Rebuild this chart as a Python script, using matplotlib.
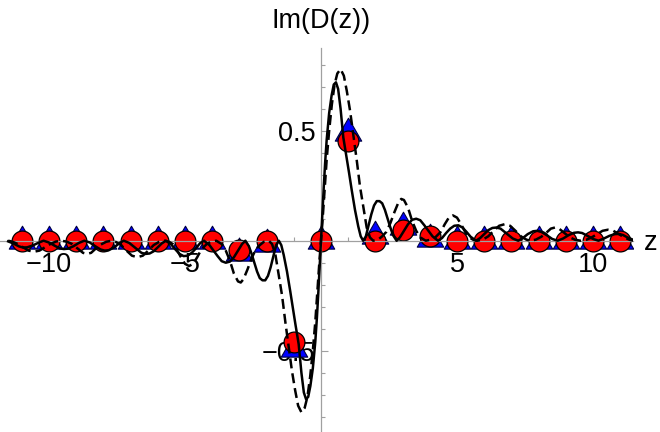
import matplotlib
matplotlib.use('Agg')
import matplotlib.pyplot as plt
from matplotlib.path import Path

plt.rcParams['font.family'] = ['Liberation Sans', 'DejaVu Sans']

# points sampled at the integers
z_pts = list(range(-11, 12))
circle_y = [0, 0, 0, 0, 0, 0, 0, 0, -0.04, 0, -0.46, 0,
            0.455, 0, 0.05, 0.02, 0, 0, 0, 0, 0, 0, 0]
triangle_y = [0, 0, 0, 0, 0, 0, 0, 0, -0.056, -0.015, -0.49, 0,
              0.49, 0.02, 0.063, 0.01, 0, 0, 0, 0, 0, 0, 0]

# solid curve (z, y)
solid_neg = [(-11.5, -0.003), (-11.3, -0.013), (-11.1, -0.026), (-10.95, -0.031), (-10.8, -0.03),
             (-10.6, -0.022), (-10.4, -0.01), (-10.2, 0), (-10.0, -0.008), (-9.8, -0.022),
             (-9.6, -0.035), (-9.45, -0.038), (-9.3, -0.036), (-9.1, -0.025), (-8.9, -0.01),
             (-8.7, 0), (-8.5, -0.008), (-8.3, -0.025), (-8.1, -0.04), (-7.95, -0.045),
             (-7.8, -0.043), (-7.6, -0.03), (-7.4, -0.01), (-7.25, 0), (-7.05, -0.01),
             (-6.9, -0.025), (-6.75, -0.04), (-6.6, -0.055), (-6.45, -0.06), (-6.3, -0.058),
             (-6.15, -0.048), (-6.0, -0.03), (-5.85, -0.012), (-5.7, 0), (-5.5, -0.018),
             (-5.35, -0.04), (-5.2, -0.06), (-5.05, -0.07), (-4.9, -0.068), (-4.75, -0.055),
             (-4.6, -0.035), (-4.45, -0.012), (-4.3, 0), (-4.1, -0.02), (-3.95, -0.045),
             (-3.8, -0.07), (-3.65, -0.093), (-3.5, -0.10), (-3.35, -0.095), (-3.2, -0.075),
             (-3.05, -0.045), (-2.9, -0.015), (-2.78, 0), (-2.65, -0.025), (-2.55, -0.06),
             (-2.45, -0.10), (-2.35, -0.14), (-2.25, -0.17), (-2.15, -0.18), (-2.05, -0.18),
             (-1.95, -0.16), (-1.85, -0.12), (-1.75, -0.07), (-1.65, -0.02), (-1.55, 0),
             (-1.46, -0.02), (-1.37, -0.065), (-1.25, -0.14), (-1.13, -0.23), (-1.03, -0.31),
             (-0.94, -0.38), (-0.82, -0.47), (-0.72, -0.60), (-0.63, -0.69), (-0.55, -0.72),
             (-0.47, -0.71), (-0.39, -0.66), (-0.30, -0.58), (-0.21, -0.46), (-0.15, -0.35),
             (-0.10, -0.24), (-0.05, -0.12)]
solid_pos = [(0, 0), (0.05, 0.12), (0.10, 0.24), (0.15, 0.35), (0.21, 0.46), (0.30, 0.58),
             (0.39, 0.66), (0.47, 0.71), (0.55, 0.72), (0.63, 0.69), (0.72, 0.60), (0.82, 0.47),
             (0.94, 0.38), (1.03, 0.31), (1.13, 0.23), (1.25, 0.14), (1.37, 0.065), (1.46, 0.02),
             (1.55, 0), (1.65, 0.02), (1.75, 0.07), (1.85, 0.12), (1.95, 0.16), (2.05, 0.18),
             (2.15, 0.18), (2.25, 0.17), (2.35, 0.14), (2.45, 0.10), (2.55, 0.06), (2.65, 0.025),
             (2.78, 0), (2.9, 0.015), (3.05, 0.045), (3.2, 0.075), (3.35, 0.095), (3.5, 0.10),
             (3.65, 0.093), (3.8, 0.07), (3.95, 0.045), (4.1, 0.02), (4.3, 0), (4.45, 0.012),
             (4.6, 0.035), (4.75, 0.055), (4.9, 0.068), (5.05, 0.07), (5.2, 0.06), (5.35, 0.04),
             (5.5, 0.018), (5.7, 0), (5.85, 0.012), (6.0, 0.03), (6.15, 0.048), (6.3, 0.058),
             (6.45, 0.06), (6.6, 0.055), (6.75, 0.04), (6.9, 0.025), (7.05, 0.01), (7.25, 0),
             (7.4, 0.01), (7.6, 0.03), (7.8, 0.043), (7.95, 0.045), (8.1, 0.04), (8.3, 0.025),
             (8.5, 0.008), (8.7, 0), (8.9, 0.01), (9.1, 0.025), (9.3, 0.036), (9.45, 0.038),
             (9.6, 0.035), (9.8, 0.022), (10.0, 0.008), (10.2, 0), (10.4, 0.01), (10.6, 0.022),
             (10.8, 0.03), (10.95, 0.031), (11.1, 0.026), (11.3, 0.013), (11.5, 0.003)]

# dashed curve (z, y)
dashed_neg = [(-11.5, 0), (-11.35, -0.004), (-11.15, -0.015), (-10.95, -0.03), (-10.75, -0.045),
              (-10.55, -0.05), (-10.35, -0.045), (-10.15, -0.03), (-9.95, -0.015), (-9.75, -0.004),
              (-9.55, 0), (-9.35, -0.004), (-9.15, -0.015), (-8.95, -0.035), (-8.75, -0.055),
              (-8.6, -0.06), (-8.45, -0.055), (-8.3, -0.038), (-8.1, -0.018), (-7.9, -0.005),
              (-7.7, 0), (-7.55, -0.005), (-7.35, -0.02), (-7.15, -0.045), (-6.95, -0.068),
              (-6.75, -0.075), (-6.55, -0.068), (-6.35, -0.045), (-6.15, -0.02), (-5.95, -0.005),
              (-5.75, 0), (-5.6, -0.004), (-5.45, -0.015), (-5.3, -0.04), (-5.15, -0.075),
              (-5.0, -0.105), (-4.85, -0.115), (-4.7, -0.105), (-4.55, -0.075), (-4.4, -0.04),
              (-4.2, -0.015), (-4.05, -0.005), (-3.85, 0), (-3.65, -0.015), (-3.5, -0.045),
              (-3.35, -0.09), (-3.2, -0.15), (-3.05, -0.185), (-2.95, -0.19), (-2.85, -0.175),
              (-2.7, -0.13), (-2.55, -0.08), (-2.4, -0.04), (-2.25, -0.02), (-2.1, -0.005),
              (-1.92, 0), (-1.80, -0.015), (-1.68, -0.06), (-1.56, -0.15), (-1.43, -0.25),
              (-1.31, -0.37), (-1.19, -0.48), (-1.07, -0.59), (-0.95, -0.68), (-0.84, -0.75),
              (-0.72, -0.78), (-0.60, -0.76), (-0.50, -0.71), (-0.40, -0.62), (-0.30, -0.50),
              (-0.21, -0.37), (-0.15, -0.26), (-0.10, -0.17), (-0.05, -0.08)]
dashed_pos = [(0, 0), (0.05, 0.08), (0.10, 0.17), (0.15, 0.26), (0.21, 0.37), (0.30, 0.50),
              (0.40, 0.62), (0.50, 0.71), (0.60, 0.76), (0.72, 0.78), (0.84, 0.75), (0.95, 0.68),
              (1.07, 0.59), (1.19, 0.48), (1.31, 0.37), (1.43, 0.25), (1.56, 0.15), (1.68, 0.06),
              (1.80, 0.015), (1.92, 0), (2.1, 0.005), (2.25, 0.02), (2.4, 0.04), (2.55, 0.08),
              (2.7, 0.13), (2.85, 0.175), (2.95, 0.19), (3.05, 0.185), (3.2, 0.15), (3.35, 0.09),
              (3.5, 0.045), (3.65, 0.015), (3.85, 0), (4.05, 0.005), (4.2, 0.015), (4.4, 0.04),
              (4.55, 0.075), (4.7, 0.105), (4.85, 0.115), (5.0, 0.105), (5.15, 0.075), (5.3, 0.04),
              (5.45, 0.015), (5.6, 0.004), (5.75, 0), (5.95, 0.005), (6.15, 0.02), (6.35, 0.045),
              (6.55, 0.068), (6.75, 0.075), (6.95, 0.068), (7.15, 0.045), (7.35, 0.02), (7.55, 0.005),
              (7.7, 0), (7.9, 0.005), (8.1, 0.018), (8.3, 0.038), (8.45, 0.055), (8.6, 0.06),
              (8.75, 0.055), (8.95, 0.035), (9.15, 0.015), (9.35, 0.004), (9.55, 0), (9.75, 0.004),
              (9.95, 0.015), (10.15, 0.03), (10.35, 0.045), (10.55, 0.05), (10.75, 0.045),
              (10.95, 0.03), (11.15, 0.015), (11.35, 0.004), (11.5, 0)]

x_major = [-10, -5, 5, 10]
x_minor = [v for v in range(-11, 12) if v not in x_major and v != 0]
y_major = [-0.5, 0.5]
y_minor = [-0.8, -0.7, -0.6, -0.4, -0.3, -0.2, -0.1, 0.1, 0.2, 0.3, 0.4, 0.6, 0.7, 0.8]

fig = plt.figure(figsize=(6.6, 4.32), dpi=100)
fig.patch.set_facecolor('white')
ax = fig.add_axes([0, 0, 633 / 660, 384 / 432])
ax.set_facecolor('none')

# triangle with its centroid on the data point
tri = Path([[0, 1], [-0.866, -0.5], [0.866, -0.5], [0, 1]], closed=True)
ax.plot(z_pts, triangle_y, linestyle='none', marker=tri, markersize=22,
        markerfacecolor='#0000ff', markeredgecolor='#000040', markeredgewidth=0.8, zorder=3)
ax.plot(z_pts, circle_y, linestyle='none', marker='o', markersize=15,
        markerfacecolor='#ff0000', markeredgecolor='black', markeredgewidth=0.9, zorder=3.2)

sz, sy = zip(*(solid_neg + solid_pos))
dz, dy = zip(*(dashed_neg + dashed_pos))
ax.plot(dz, dy, color='black', lw=1.8, dashes=(4, 2), zorder=5)
ax.plot(sz, sy, color='black', lw=1.8, zorder=5)

ax.set_xlim(-11.80, 11.47)
ax.set_ylim(-0.8695, 0.876)

for s in ['top', 'right']:
    ax.spines[s].set_visible(False)
for s in ['left', 'bottom']:
    ax.spines[s].set_position('zero')
    ax.spines[s].set_color('#a0a0a0')
    ax.spines[s].set_linewidth(0.9)
    ax.spines[s].set_zorder(4)

ax.set_xticks(x_major)
ax.set_xticks(x_minor, minor=True)
ax.set_yticks(y_major)
ax.set_yticks(y_minor, minor=True)
ax.set_xticklabels(['\u221210', '\u22125', '5', '10'])
ax.set_yticklabels(['\u22120.5', '0.5'])
ax.tick_params(which='both', direction='in', color='#a0a0a0', width=0.8, labelsize=19.5)
ax.tick_params(which='major', length=5)
ax.tick_params(which='minor', length=3)
ax.tick_params(axis='x', which='major', pad=8)
ax.tick_params(axis='y', which='major', pad=4)

fig.text(321 / 660, 1 - 20.5 / 432, 'Im(D(z))', ha='center', va='center', fontsize=19.5)
fig.text(651 / 660, 1 - 243 / 432, 'z', ha='center', va='center', fontsize=19.5)

fig.savefig('out.png', dpi=100)
